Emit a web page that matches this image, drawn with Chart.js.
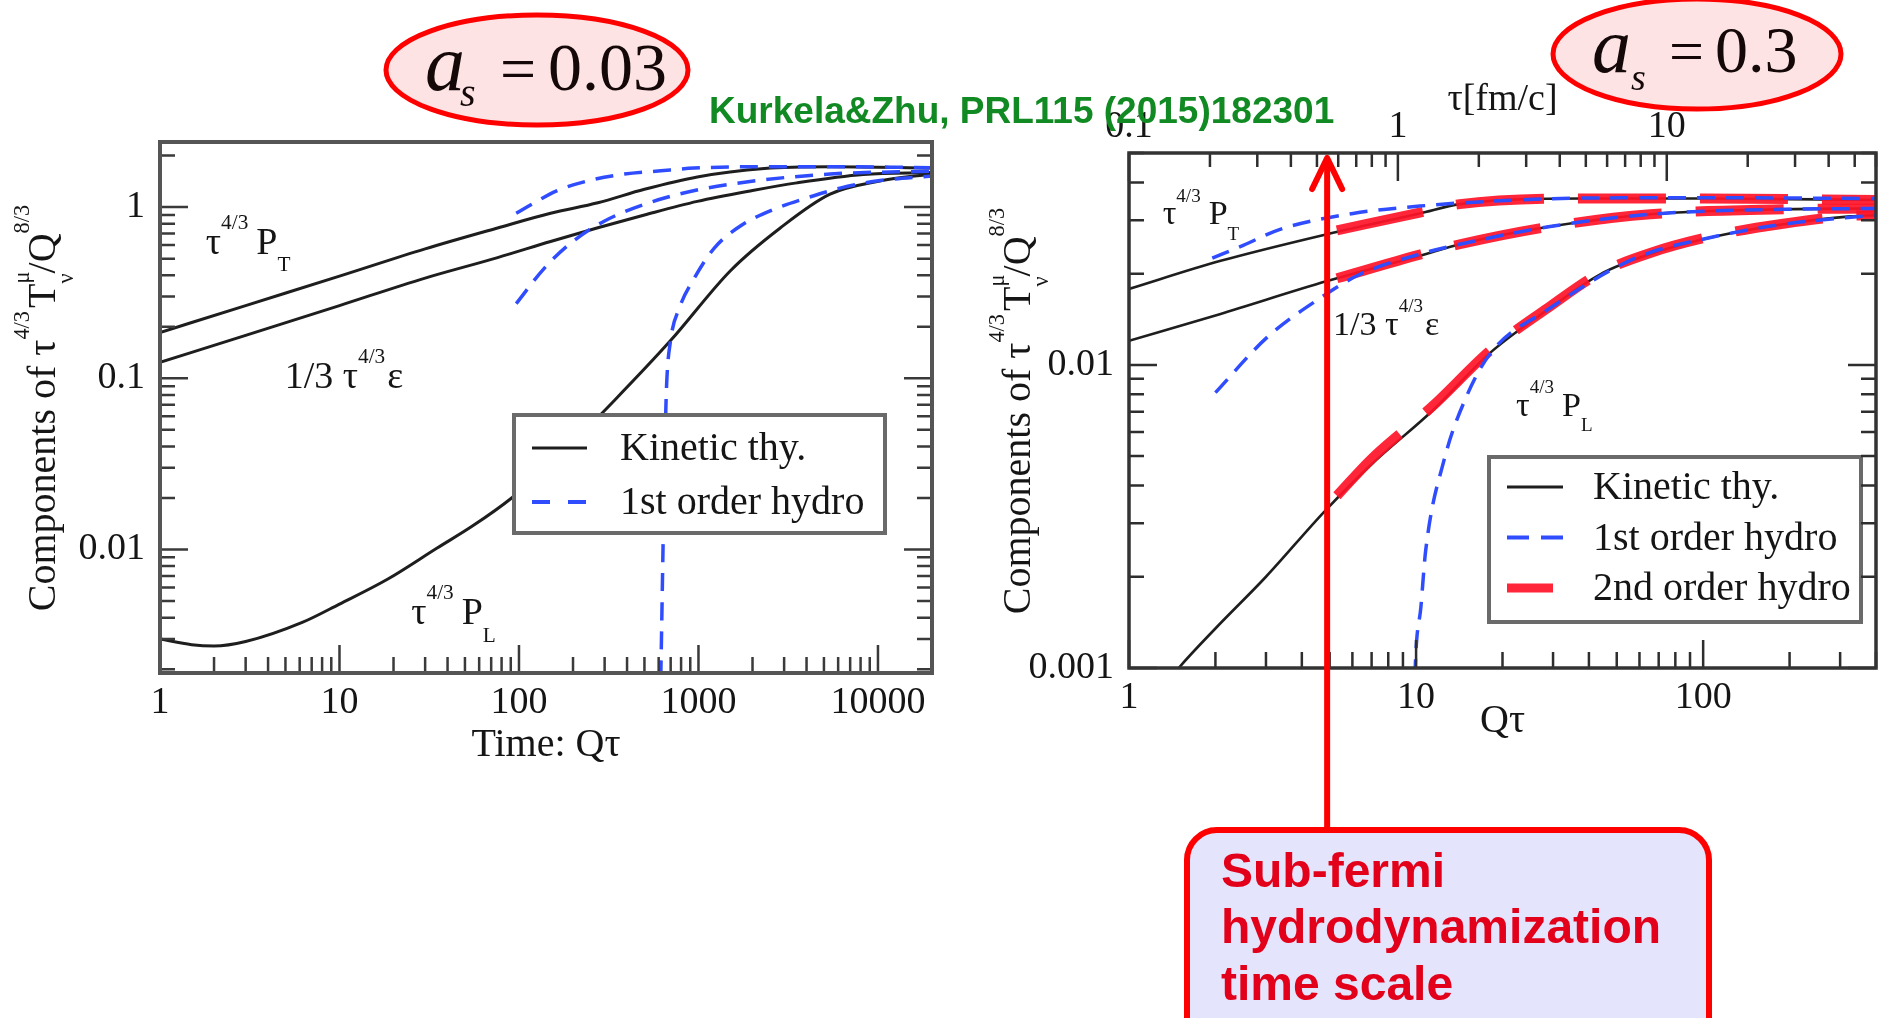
<!DOCTYPE html>
<html>
<head>
<meta charset="utf-8">
<script src="https://cdn.jsdelivr.net/npm/chart.js@4.4.1/dist/chart.umd.min.js"></script>
<style>
  html, body { margin: 0; padding: 0; background: #fff; }
  body { width: 1884px; height: 1018px; position: relative; overflow: hidden; }
  #graficoEsq { position: absolute; left: 0; top: 0; }
  #graficoDir { position: absolute; left: 960px; top: 0; }
  #notas { position: absolute; left: 0; top: 0; pointer-events: none; }
</style>
</head>
<body>
<canvas id="graficoEsq" width="960" height="800"></canvas>
<canvas id="graficoDir" width="924" height="1018"></canvas>

<svg id="notas" width="1884" height="1018" xmlns="http://www.w3.org/2000/svg">
  <ellipse cx="537" cy="70" rx="151" ry="55" fill="#fde3e3" stroke="#ff0000" stroke-width="5"/>
  <text font-family="Liberation Serif, serif" fill="#140808">
    <tspan x="425" y="90" font-size="80" font-style="italic">a</tspan>
    <tspan x="460" y="106" font-size="40" font-style="italic">s</tspan>
    <tspan x="500" y="90" font-size="64">=</tspan>
    <tspan x="548" y="90" font-size="68">0.03</tspan>
  </text>
  <ellipse cx="1697" cy="54" rx="144" ry="55" fill="#fde3e3" stroke="#ff0000" stroke-width="5"/>
  <text font-family="Liberation Serif, serif" fill="#140808">
    <tspan x="1592" y="72" font-size="78" font-style="italic">a</tspan>
    <tspan x="1631" y="90" font-size="38" font-style="italic">s</tspan>
    <tspan x="1669" y="72" font-size="62">=</tspan>
    <tspan x="1715" y="72" font-size="66">0.3</tspan>
  </text>
  <text x="709" y="123" font-family="Liberation Sans, Arial, sans-serif" font-weight="bold" font-size="37" fill="#128a23">Kurkela&amp;Zhu, PRL115 (2015)182301</text>
  <rect x="1187" y="830" width="522" height="230" rx="30" ry="30" fill="#e4e4fc" stroke="#ff0000" stroke-width="6"/>
  <text font-family="Liberation Sans, Arial, sans-serif" font-weight="bold" font-size="48" fill="#e2001a">
    <tspan x="1221" y="887">Sub-fermi</tspan>
    <tspan x="1221" y="943">hydrodynamization</tspan>
    <tspan x="1221" y="1000">time scale</tspan>
  </text>
</svg>

<script>
// ---- dados (Qτ  ->  τ^{4/3} T / Q^{8/3}) ----

// painel esquerdo, αs = 0.03
const esqTicksX = ['1', '10', '100', '1000', '10000'];
const esqTicksY = ['0.01', '0.1', '1'];

const esqKinPTq = [1, 3, 10, 30, 76, 150, 275, 500, 985, 2330, 5400, 20000];
const esqKinPT  = [0.185, 0.266, 0.395, 0.57, 0.755, 0.92, 1.06, 1.27, 1.5, 1.68, 1.72, 1.69];
const esqKinEq  = [1, 3, 10, 30, 76, 150, 275, 500, 985, 2000, 3530, 8300, 20000];
const esqKinE   = [0.124, 0.178, 0.266, 0.385, 0.507, 0.63, 0.758, 0.9, 1.08, 1.25, 1.385, 1.55, 1.59];
const esqKinPLq = [1, 1.5, 2, 3, 6.2, 10, 18.5, 35, 55, 91, 180, 341, 699, 1507, 2855, 5410, 10230, 20000];
const esqKinPL  = [0.003, 0.00278, 0.00273, 0.0029, 0.00375, 0.0048, 0.0067, 0.0102, 0.0137, 0.02, 0.038, 0.0745, 0.166, 0.425, 0.755, 1.19, 1.42, 1.56];

const esqHydPTq = [96.5, 122, 161, 247, 387, 617, 946, 2500, 6000, 20000];
const esqHydPT  = [0.92, 1.06, 1.24, 1.43, 1.56, 1.63, 1.69, 1.72, 1.72, 1.7];
const esqHydEq  = [96.5, 139, 195, 300, 646, 1507, 5410, 20000];
const esqHydE   = [0.273, 0.442, 0.618, 0.83, 1.13, 1.36, 1.56, 1.62];
const esqHydPLq = [612, 622, 632, 642, 652, 664, 699, 784, 950, 1228, 1711, 2630, 4000, 6150, 9800, 20000];
const esqHydPL  = [0.0012, 0.003, 0.008, 0.02, 0.045, 0.09, 0.166, 0.259, 0.386, 0.578, 0.775, 0.97, 1.13, 1.29, 1.42, 1.52];

// painel direito, αs = 0.3
const dirTicksX   = ['1', '10', '100'];
const dirTicksTop = ['0.1', '1', '10'];
const dirTicksY   = ['0.001', '0.01'];

const dirKinPTq = [1, 2.07, 4.9, 10.3, 14.2, 38, 100, 400];
const dirKinPT  = [0.0178, 0.022, 0.027, 0.0316, 0.0339, 0.0354, 0.0354, 0.035];
const dirKinEq  = [1, 2.07, 4.9, 10.3, 14.2, 29.3, 65.4, 190, 400];
const dirKinE   = [0.012, 0.0147, 0.0189, 0.0229, 0.025, 0.0286, 0.0314, 0.0326, 0.0328];
const dirKinPLq = [1.3, 1.49, 2, 3, 4.82, 7, 11.4, 18.4, 29.3, 43.8, 65.4, 112, 190, 325, 400];
const dirKinPL  = [0.00085, 0.001, 0.00135, 0.002, 0.0033, 0.0047, 0.00706, 0.0111, 0.0154, 0.0199, 0.0232, 0.0266, 0.0291, 0.0309, 0.0312];

const dirHydPTq = [1.95, 2.5, 3.36, 6.03, 10.3, 14.2, 38, 100, 400];
const dirHydPT  = [0.0225, 0.0248, 0.028, 0.0316, 0.0334, 0.0342, 0.0355, 0.0356, 0.0354];
const dirHydEq  = [2.0, 3.02, 4.63, 6.38, 10.3, 14.2, 29.3, 65.4, 190, 400];
const dirHydE   = [0.0081, 0.0123, 0.0166, 0.0199, 0.0232, 0.025, 0.0286, 0.0314, 0.0326, 0.0328];
const dirHydPLq = [9.8, 9.93, 10.4, 10.8, 12.5, 15.1, 18.4, 28.4, 58, 112, 190, 400];
const dirHydPL  = [0.0006, 0.001, 0.0016, 0.00244, 0.00483, 0.008, 0.0111, 0.0151, 0.0225, 0.0266, 0.0291, 0.0312];

const dirHyd2PTq = [5.3, 10.3, 14.2, 38, 100, 400];
const dirHyd2PT  = [0.0278, 0.0318, 0.0339, 0.0354, 0.0354, 0.035];
const dirHyd2Eq  = [5.3, 10.3, 14.2, 29.3, 65.4, 190, 400];
const dirHyd2E   = [0.0193, 0.0231, 0.025, 0.0286, 0.0314, 0.0326, 0.0328];
const dirHyd2PLq = [5.3, 7, 11.4, 18.4, 29.3, 43.8, 65.4, 112, 190, 325, 400];
const dirHyd2PL  = [0.0037, 0.0049, 0.0073, 0.0113, 0.0156, 0.0201, 0.0234, 0.0268, 0.0292, 0.031, 0.0312];

// seta: escala de hidrodinamizacao (Qτ)
const setaQ = 4.9;

const nomes = ['Kinetic thy.', '1st order hydro', '2nd order hydro'];

// ---- estilo ----
const serif = '"Liberation Serif", "Times New Roman", serif';
const corTexto = '#151515';

const estiloKin  = { borderColor: '#1e1e1e', borderWidth: 3, order: 2 };
const estiloHyd  = { borderColor: '#2f4dff', borderWidth: 3.5, borderDash: [18, 11], order: 0 };
const estiloHyd2 = { borderColor: 'rgba(255,20,40,0.92)', borderWidth: 10, borderDash: [88, 34], order: 1 };

function serie(label, qs, vs, estilo) {
    return Object.assign({
        label: label,
        data: qs.map((q, i) => ({ x: q, y: vs[i] })),
        showLine: true,
        pointRadius: 0,
        fill: false,
        cubicInterpolationMode: 'monotone'
    }, estilo);
}

function rotuloDecada(lista) {
    const mapa = {};
    lista.forEach(t => { mapa[Math.round(Math.log10(parseFloat(t)))] = t; });
    return function (valor) {
        const l = Math.log10(valor);
        const e = Math.round(l);
        if (Math.abs(l - e) > 1e-6) return '';
        return mapa[e] !== undefined ? mapa[e] : '';
    };
}

function marcasLog(escala) {
    const out = [];
    const lo = Math.floor(Math.log10(escala.min));
    const hi = Math.ceil(Math.log10(escala.max));
    for (let k = lo; k <= hi; k++) {
        for (let m = 1; m <= 9; m++) {
            const v = m * Math.pow(10, k);
            if (v >= escala.min * 0.9999 && v <= escala.max * 1.0001) out.push({ v: v, major: m === 1 });
        }
    }
    return out;
}

// texto com sobrescrito / subscrito
function rich(ctx, x, y, partes, tam, soMedir) {
    let cx = x;
    partes.forEach(p => {
        const peq = p.sup || p.sub;
        const s = peq ? tam * 0.56 : tam;
        const dy = p.sup ? -tam * 0.66 : (p.sub ? tam * 0.46 : 0);
        ctx.font = s + 'px ' + serif;
        if (!soMedir) ctx.fillText(p.t, cx, y + dy);
        if (!p.keep) cx += ctx.measureText(p.t).width + (p.gap || 0);
    });
    return cx - x;
}

const tituloY = [
    { t: 'Components of τ' }, { t: '4/3', sup: true, gap: 3 }, { t: 'T' },
    { t: 'μ', sup: true, keep: true }, { t: 'ν', sub: true }, { t: '/Q' }, { t: '8/3', sup: true }
];

function desenharMarcas(chart, cfg) {
    const { ctx, chartArea: a, scales } = chart;
    ctx.save();
    ctx.strokeStyle = cfg.corMarca;
    ctx.lineWidth = 2.5;
    ctx.beginPath();
    marcasLog(scales.y).forEach(t => {
        const y = scales.y.getPixelForValue(t.v);
        const len = t.major ? 28 : 15;
        ctx.moveTo(a.left, y); ctx.lineTo(a.left + len, y);
        ctx.moveTo(a.right, y); ctx.lineTo(a.right - len, y);
    });
    marcasLog(scales.x).forEach(t => {
        const x = scales.x.getPixelForValue(t.v);
        const len = t.major ? 28 : 16;
        ctx.moveTo(x, a.bottom); ctx.lineTo(x, a.bottom - len);
    });
    if (scales.x2) {
        marcasLog(scales.x2).forEach(t => {
            const x = scales.x2.getPixelForValue(t.v);
            const len = t.major ? 28 : 14;
            ctx.moveTo(x, a.top); ctx.lineTo(x, a.top + len);
        });
    }
    ctx.stroke();
    ctx.lineWidth = cfg.larguraMoldura;
    ctx.strokeStyle = cfg.corMoldura;
    ctx.strokeRect(a.left, a.top, a.right - a.left, a.bottom - a.top);
    ctx.restore();
}

function desenharLegenda(chart, lg) {
    const { ctx, chartArea: a } = chart;
    const x0 = a.left + lg.dx, y0 = a.top + lg.dy;
    ctx.save();
    ctx.fillStyle = '#fff';
    ctx.fillRect(x0, y0, lg.w, lg.h);
    ctx.strokeStyle = '#6a6a6a';
    ctx.lineWidth = 4;
    ctx.strokeRect(x0, y0, lg.w, lg.h);
    lg.linhas.forEach((r, i) => {
        const y = y0 + lg.primeira + i * lg.passo;
        ctx.beginPath();
        ctx.setLineDash(r.dash || []);
        ctx.strokeStyle = r.cor;
        ctx.lineWidth = r.largura;
        ctx.moveTo(x0 + 18, y);
        ctx.lineTo(x0 + 18 + r.len, y);
        ctx.stroke();
        ctx.setLineDash([]);
        ctx.fillStyle = corTexto;
        ctx.font = '40px ' + serif;
        ctx.textAlign = 'left';
        ctx.textBaseline = 'alphabetic';
        ctx.fillText(r.nome, x0 + lg.textoDx, y + 12);
    });
    ctx.restore();
}

function desenharSeta(chart, q, fim) {
    const { ctx, chartArea: a, scales } = chart;
    const x = scales.x.getPixelForValue(q);
    const topo = a.top + 5;
    ctx.save();
    ctx.strokeStyle = '#ff0000';
    ctx.lineWidth = 6;
    ctx.lineCap = 'round';
    ctx.lineJoin = 'round';
    ctx.beginPath();
    ctx.moveTo(x, topo + 2);
    ctx.lineTo(x, fim);
    ctx.stroke();
    ctx.beginPath();
    ctx.moveTo(x - 15, topo + 31);
    ctx.lineTo(x, topo);
    ctx.lineTo(x + 15, topo + 31);
    ctx.stroke();
    ctx.restore();
}

function decoracao(cfg) {
    return {
        id: 'decoracao',
        afterDraw(chart) {
            const { ctx, scales } = chart;
            desenharLegenda(chart, cfg.legenda);

            ctx.save();
            ctx.fillStyle = corTexto;
            ctx.textAlign = 'left';
            ctx.textBaseline = 'alphabetic';
            cfg.rotulos.forEach(r => {
                rich(ctx, scales.x.getPixelForValue(r.q), scales.y.getPixelForValue(r.v), r.partes, r.tam);
            });
            ctx.restore();

            desenharMarcas(chart, cfg);

            ctx.save();
            ctx.translate(cfg.tituloY.x, cfg.tituloY.y);
            ctx.rotate(-Math.PI / 2);
            ctx.fillStyle = corTexto;
            ctx.textAlign = 'left';
            ctx.textBaseline = 'alphabetic';
            const w = rich(ctx, 0, 0, tituloY, 40, true);
            rich(ctx, -w / 2, 0, tituloY, 40);
            ctx.restore();

            if (cfg.seta) desenharSeta(chart, cfg.seta.q, cfg.seta.fim);
        }
    };
}

function partesP(sub) {
    return [{ t: 'τ' }, { t: '4/3', sup: true, gap: 8 }, { t: 'P' }, { t: sub, sub: true }];
}
const partesE = [{ t: '1/3 τ' }, { t: '4/3', sup: true, gap: 2 }, { t: 'ε' }];

const fonteTick = { family: serif, size: 38 };
const fonteTitulo = { family: serif, size: 40 };

function eixoLog(min, max, rotulos, extra) {
    return Object.assign({
        type: 'logarithmic',
        min: min,
        max: max,
        grid: { display: false, drawTicks: false },
        border: { display: false },
        ticks: {
            autoSkip: false,
            maxRotation: 0,
            minRotation: 0,
            font: fonteTick,
            color: corTexto,
            callback: rotuloDecada(rotulos)
        }
    }, extra);
}

// ---- painel esquerdo ----
new Chart(document.getElementById('graficoEsq'), {
    type: 'scatter',
    data: {
        datasets: [
            serie(nomes[1], esqHydPTq, esqHydPT, estiloHyd),
            serie(nomes[1], esqHydEq, esqHydE, estiloHyd),
            serie(nomes[1], esqHydPLq, esqHydPL, estiloHyd),
            serie(nomes[0], esqKinPTq, esqKinPT, estiloKin),
            serie(nomes[0], esqKinEq, esqKinE, estiloKin),
            serie(nomes[0], esqKinPLq, esqKinPL, estiloKin)
        ]
    },
    options: {
        responsive: false,
        animation: false,
        devicePixelRatio: 1,
        events: [],
        layout: { padding: { left: 0, top: 142, right: 28, bottom: 0 } },
        plugins: { legend: { display: false }, tooltip: { enabled: false } },
        scales: {
            x: (() => {
                const e = eixoLog(1, 20000, esqTicksX, {
                    position: 'bottom',
                    afterFit: s => { s.height = 127; },
                    title: { display: true, text: 'Time: Qτ', font: fonteTitulo, color: corTexto, padding: { top: 0, bottom: 31 } }
                });
                e.ticks.padding = 7;
                return e;
            })(),
            y: (() => {
                const e = eixoLog(0.0019, 2.4, esqTicksY, {
                    position: 'left',
                    afterFit: s => { s.width = 160; }
                });
                e.ticks.padding = 15;
                return e;
            })()
        }
    },
    plugins: [decoracao({
        corMarca: '#3a3a3a',
        corMoldura: '#555',
        larguraMoldura: 4,
        tituloY: { x: 55, y: 408 },
        legenda: {
            dx: 354, dy: 273, w: 371, h: 118, primeira: 33, passo: 54, textoDx: 106,
            linhas: [
                { nome: nomes[0], cor: '#1e1e1e', largura: 3, len: 55 },
                { nome: nomes[1], cor: '#2f4dff', largura: 4, len: 55, dash: [18, 18] }
            ]
        },
        rotulos: [
            { q: 1.8, v: 0.533, partes: partesP('T'), tam: 38 },
            { q: 4.95, v: 0.0875, partes: partesE, tam: 38 },
            { q: 25.1, v: 0.00366, partes: partesP('L'), tam: 38 }
        ]
    })]
});

// ---- painel direito ----
new Chart(document.getElementById('graficoDir'), {
    type: 'scatter',
    data: {
        datasets: [
            serie(nomes[1], dirHydPTq, dirHydPT, estiloHyd),
            serie(nomes[1], dirHydEq, dirHydE, estiloHyd),
            serie(nomes[1], dirHydPLq, dirHydPL, estiloHyd),
            serie(nomes[2], dirHyd2PTq, dirHyd2PT, estiloHyd2),
            serie(nomes[2], dirHyd2Eq, dirHyd2E, estiloHyd2),
            serie(nomes[2], dirHyd2PLq, dirHyd2PL, estiloHyd2),
            serie(nomes[0], dirKinPTq, dirKinPT, Object.assign({}, estiloKin, { borderWidth: 2.6 })),
            serie(nomes[0], dirKinEq, dirKinE, Object.assign({}, estiloKin, { borderWidth: 2.6 })),
            serie(nomes[0], dirKinPLq, dirKinPL, Object.assign({}, estiloKin, { borderWidth: 2.6 }))
        ]
    },
    options: {
        responsive: false,
        animation: false,
        devicePixelRatio: 1,
        events: [],
        layout: { padding: { left: 0, top: 0, right: 8, bottom: 218 } },
        plugins: { legend: { display: false }, tooltip: { enabled: false } },
        scales: {
            x: (() => {
                const e = eixoLog(1, 400, dirTicksX, {
                    position: 'bottom',
                    afterFit: s => { s.height = 132; },
                    title: { display: true, text: 'Qτ', font: fonteTitulo, color: corTexto, padding: { top: 0, bottom: 55 } }
                });
                e.ticks.padding = 7;
                return e;
            })(),
            x2: (() => {
                const e = eixoLog(0.1, 60, dirTicksTop, {
                    position: 'top',
                    afterFit: s => { s.height = 153; },
                    title: { display: true, text: 'τ[fm/c]', font: { family: serif, size: 38 }, color: corTexto, padding: { top: 77, bottom: 0 } }
                });
                e.ticks.padding = 3;
                return e;
            })(),
            y: (() => {
                const e = eixoLog(0.001, 0.05, dirTicksY, {
                    position: 'left',
                    afterFit: s => { s.width = 169; }
                });
                e.ticks.padding = 15;
                return e;
            })()
        }
    },
    plugins: [decoracao({
        corMarca: '#2e2e2e',
        corMoldura: '#333',
        larguraMoldura: 3.5,
        tituloY: { x: 70, y: 411 },
        seta: { q: setaQ, fim: 832 },
        legenda: {
            dx: 360, dy: 304, w: 372, h: 165, primeira: 30, passo: 50.5, textoDx: 104,
            linhas: [
                { nome: nomes[0], cor: '#1e1e1e', largura: 3, len: 56 },
                { nome: nomes[1], cor: '#2f4dff', largura: 4, len: 56, dash: [22, 12] },
                { nome: nomes[2], cor: 'rgba(255,20,40,0.92)', largura: 9, len: 46 }
            ]
        },
        rotulos: [
            { q: 1.31, v: 0.0291, partes: partesP('T'), tam: 34 },
            { q: 5.14, v: 0.01257, partes: partesE, tam: 34 },
            { q: 22.3, v: 0.00679, partes: partesP('L'), tam: 34 }
        ]
    })]
});
</script>
</body>
</html>
